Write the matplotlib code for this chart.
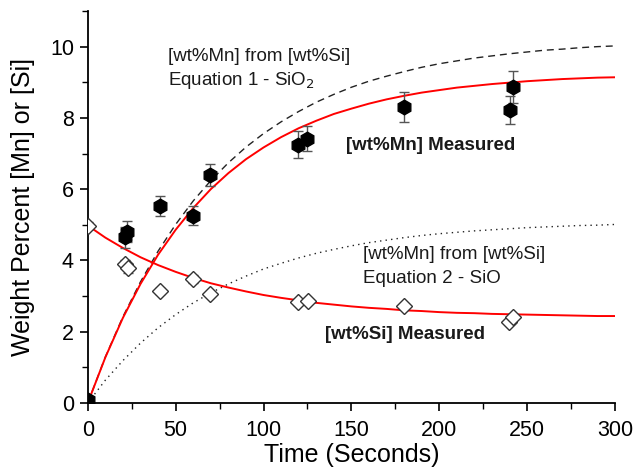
import matplotlib

matplotlib.use("Agg")
import matplotlib.pyplot as plt
from matplotlib.ticker import MultipleLocator

plt.rcParams["font.family"] = ["Liberation Sans", "DejaVu Sans"]

# measured points
mn_time = [0, 21, 22.6, 41, 60, 69.5, 119.7, 125, 180, 240.3, 242.1]
mn_wt = [0.08, 4.65, 4.81, 5.53, 5.26, 6.40, 7.25, 7.42, 8.30, 8.22, 8.87]
mn_err = [0.05, 0.30, 0.30, 0.29, 0.27, 0.32, 0.37, 0.36, 0.42, 0.39, 0.44]

si_time = [0, 21, 23, 41, 60, 69.5, 119.7, 125.4, 180, 239.8, 242.1]
si_wt = [4.97, 3.90, 3.78, 3.15, 3.48, 3.05, 2.82, 2.87, 2.72, 2.28, 2.42]
si_err = [0.10, 0.12, 0.12, 0.08, 0.10, 0.06, 0.06, 0.06, 0.06, 0.06, 0.06]

# curves, sampled every 10 s
curve_time = list(range(0, 301, 10))
mn_fit = [0.00, 1.28, 2.39, 3.34, 4.16, 4.86, 5.47, 6.00, 6.45, 6.84, 7.17,
          7.46, 7.71, 7.92, 8.11, 8.26, 8.40, 8.52, 8.62, 8.71, 8.78,
          8.85, 8.90, 8.95, 8.99, 9.03, 9.06, 9.09, 9.11, 9.13, 9.14]
mn_eq1 = [0.00, 1.29, 2.42, 3.40, 4.26, 5.01, 5.67, 6.24, 6.74, 7.18, 7.56,
          7.89, 8.18, 8.44, 8.66, 8.86, 9.03, 9.17, 9.30, 9.42, 9.52,
          9.60, 9.68, 9.74, 9.80, 9.85, 9.90, 9.93, 9.97, 10.00, 10.02]
mn_eq2 = [0.00, 0.64, 1.19, 1.68, 2.11, 2.48, 2.81, 3.09, 3.34, 3.56, 3.76,
          3.92, 4.07, 4.20, 4.31, 4.41, 4.50, 4.57, 4.64, 4.70, 4.75,
          4.79, 4.83, 4.86, 4.89, 4.92, 4.94, 4.96, 4.98, 4.99, 5.01]
si_fit = [4.98, 4.64, 4.35, 4.09, 3.87, 3.68, 3.51, 3.36, 3.24, 3.13, 3.03,
          2.95, 2.88, 2.81, 2.76, 2.71, 2.67, 2.64, 2.60, 2.58, 2.55,
          2.53, 2.52, 2.50, 2.49, 2.48, 2.47, 2.46, 2.45, 2.44, 2.44]

fig = plt.figure(figsize=(6.36, 4.70), dpi=100)
ax = fig.add_axes([0.138, 0.1426, 0.829, 0.834])

ax.plot(curve_time, mn_eq1, color="#222222", lw=1.0, ls=(0, (5, 3.5)))
ax.plot(curve_time, mn_eq2, color="#222222", lw=1.0, ls=(0, (1, 3)))
ax.plot(curve_time, mn_fit, color="#ff0000", lw=1.4)
ax.plot(curve_time, si_fit, color="#ff0000", lw=1.4)

ax.errorbar(mn_time, mn_wt, yerr=mn_err, fmt="h", ms=10.5, mfc="black", mec="black",
            ecolor="#555555", elinewidth=1.0, capsize=3.5, capthick=1.0, zorder=5)
ax.errorbar(si_time, si_wt, yerr=si_err, fmt="D", ms=8.5, mfc="white", mec="#333333",
            mew=1.0, ecolor="#555555", elinewidth=1.0, capsize=3.5, capthick=1.0, zorder=6)

tc = "#1a1a1a"
ax.text(45.5, 9.72, "[wt%Mn] from [wt%Si]", fontsize=13.5, color=tc, va="center")
ax.text(45.5, 9.04, "Equation 1 - SiO$_2$", fontsize=13.5, color=tc, va="center")
ax.text(147.2, 7.23, "[wt%Mn] Measured", fontsize=13.5, fontweight="bold", color=tc, va="center")
ax.text(156.4, 4.16, "[wt%Mn] from [wt%Si]", fontsize=13.5, color=tc, va="center")
ax.text(156.4, 3.50, "Equation 2 - SiO", fontsize=13.5, color=tc, va="center")
ax.text(134.9, 1.91, "[wt%Si] Measured", fontsize=13.5, fontweight="bold", color=tc, va="center")

ax.set_xlim(0, 300)
ax.set_ylim(0, 11)
ax.xaxis.set_major_locator(MultipleLocator(50))
ax.xaxis.set_minor_locator(MultipleLocator(25))
ax.yaxis.set_major_locator(MultipleLocator(2))
ax.yaxis.set_minor_locator(MultipleLocator(1))
ax.set_yticks(range(0, 11, 2))

for s in ("top", "right"):
    ax.spines[s].set_visible(False)
for s in ("left", "bottom"):
    ax.spines[s].set_linewidth(1.3)
ax.tick_params(which="major", direction="out", length=6, width=1.2, labelsize=15.5, pad=4)
ax.tick_params(axis="x", which="major", pad=6)
ax.tick_params(which="minor", direction="out", length=4, width=1.0)

ax.set_xlabel("Time (Seconds)", fontsize=18, labelpad=2)
ax.set_ylabel("Weight Percent [Mn] or [Si]", fontsize=18, labelpad=11)

fig.savefig("out.png", dpi=100)
